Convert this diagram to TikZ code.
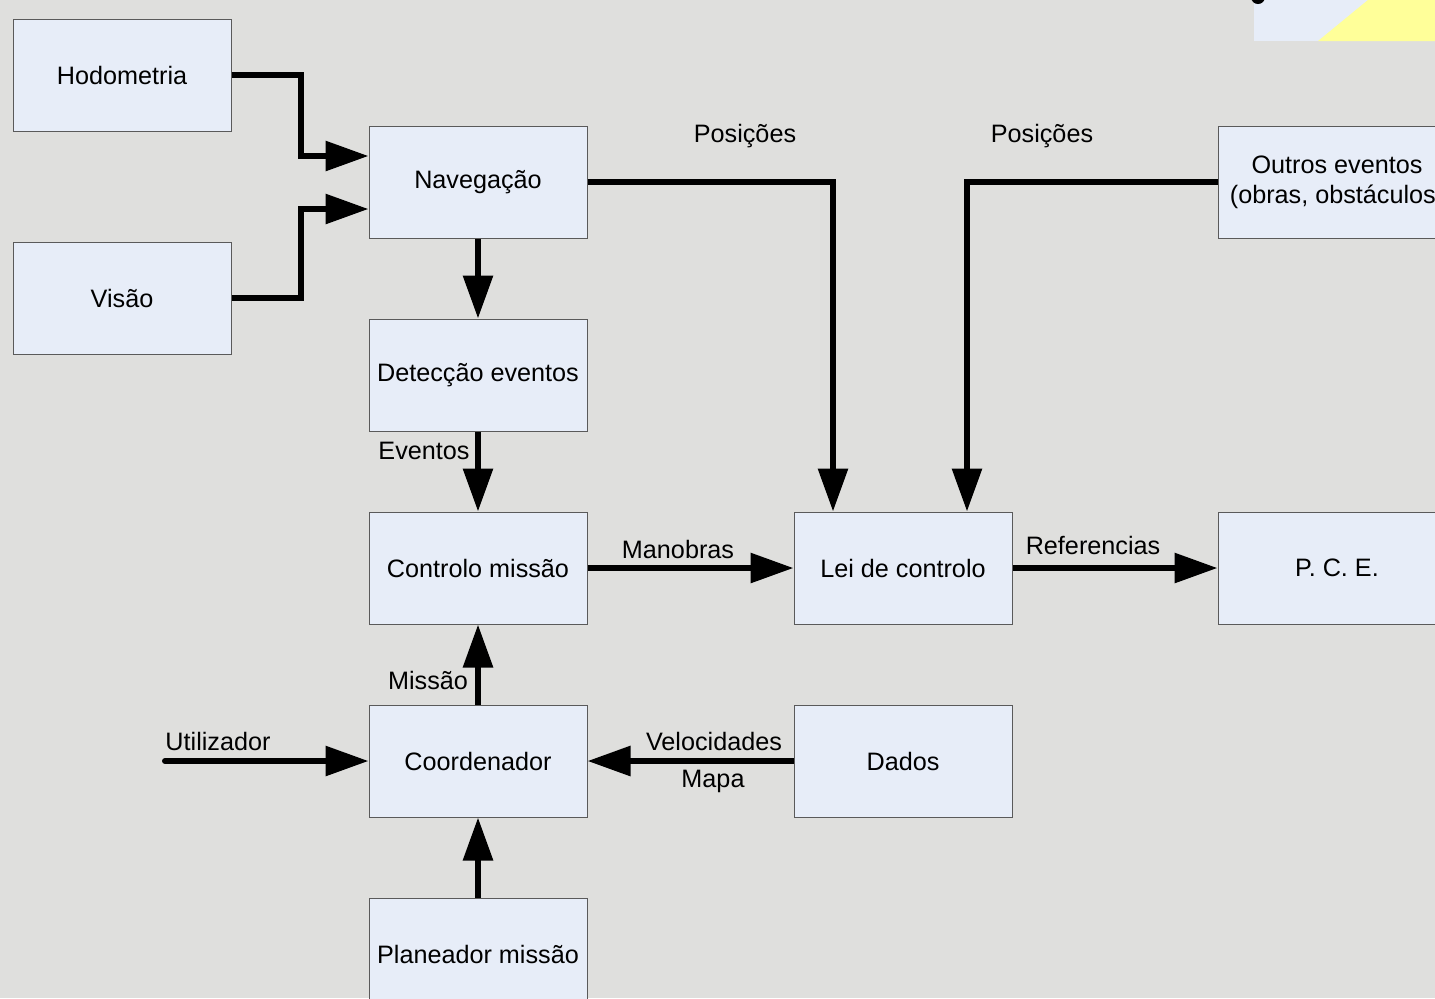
\documentclass[tikz,border=0pt]{standalone}
\usepackage{fontspec}
\setmainfont{Liberation Sans}
\usetikzlibrary{arrows.meta}

\definecolor{bgcolor}{HTML}{DFDFDD}
\definecolor{boxfill}{HTML}{E7EDF8}
\definecolor{boxline}{HTML}{5A5A5A}
\definecolor{logoyellow}{HTML}{FFFF99}

\tikzset{
  box/.style={draw=boxline, line width=0.5pt, fill=boxfill, minimum width=109pt,
    minimum height=56pt, inner sep=0pt, align=center},
  flow/.style={line width=3pt, -{Triangle[length=21.5pt,width=14.5pt]}},
  lbl/.style={inner sep=0pt}
}

\begin{document}
\begin{tikzpicture}[x=0.5pt, y=-0.5pt, font=\fontsize{12.6}{15}\selectfont]
            \useasboundingbox (0,0) rectangle (1435,998);
            \clip (0,0) rectangle (1435,998);
            \fill[bgcolor] (0,0) rectangle (1435,998);

            % logo corner
            \fill[boxfill] (1254,-5) rectangle (1440,41);
            \fill[logoyellow] (1318,41) -- (1374,-5) -- (1440,-5) -- (1440,41) -- cycle;
            \fill[black] (1258,-3) circle (7);

            \node[box] (hodo) at (122, 75.5) {Hodometria};
            \node[box] (visao) at (122, 298) {Visão};
            \node[box] (nav) at (478, 182) {Navegação};
            \node[box] (detec) at (478, 375) {Detecção eventos};
            \node[box] (ctrl) at (478, 568) {Controlo missão};
            \node[box] (coord) at (478, 761) {Coordenador};
            \node[box] (plan) at (478, 954) {Planeador missão};
            \node[box] (lei) at (903, 568) {Lei de controlo};
            \node[box] (dados) at (903, 761) {Dados};
            \node[box, minimum width=119pt] (pce) at (1337, 568) {P. C. E.};
            \node[box, minimum width=119pt] (outros) at (1337, 182) {Outros eventos\\(obras, obstáculos)};

            \coordinate (util) at (165, 761);

            \draw[flow] (hodo.east |- 0,75) -- (301,75) -- (301,156) -- (nav.west |- 0,156);
            \draw[flow] (visao.east) -- (301,298) -- (301,209) -- (nav.west |- 0,209);
            \draw[flow] (nav) -- (detec);
            \draw[flow] (detec) -- (ctrl);
            \draw[flow] (nav.east) -- (833,182) -- (lei.north -| 833,0);
            \draw[flow] (outros.west) -- (967,182) -- (lei.north -| 967,0);
            \draw[flow] (ctrl) -- (lei);
            \draw[flow] (lei) -- (pce);
            \draw[flow] (coord) -- (ctrl);
            \draw[flow, line cap=round] (util) -- (coord);
            \draw[flow] (dados) -- (coord);
            \draw[flow] (plan) -- (coord);

            \node[lbl] (posA) at (745, 136) {Posições};
            \node[lbl] (posB) at (1042, 136) {Posições};
            \node[lbl] (evt) at (424, 451) {Eventos};
            \node[lbl] (manob) at (678, 549) {Manobras};
            \node[lbl] (refs) at (1093, 545) {Referencias};
            \node[lbl] (missao) at (428, 680) {Missão};
            \node[lbl] (utiltxt) at (218, 741) {Utilizador};
            \node[lbl] (veloc) at (714, 741) {Velocidades};
            \node[lbl] (mapa) at (713, 781) {Mapa};
        \end{tikzpicture}
\end{document}
